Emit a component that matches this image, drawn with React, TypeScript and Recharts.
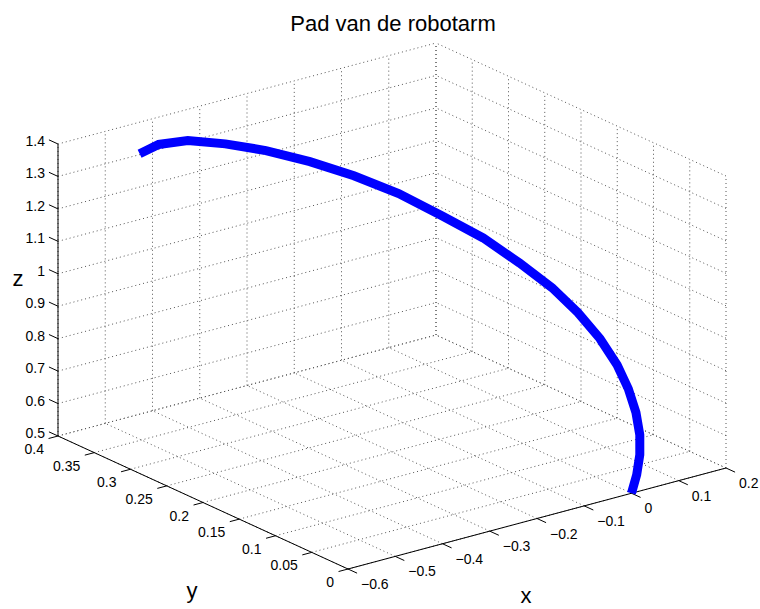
import { Scatter, ScatterChart, XAxis, YAxis } from "recharts"

const W = 760
const H = 609
const FONT = "'Liberation Sans', Arial, Helvetica, sans-serif"

// tip of the robot arm, sampled along its path
const pathX = [-0.504, -0.459, -0.402, -0.338, -0.272, -0.205, -0.141, -0.08, -0.027, 0.022, 0.059, 0.09, 0.109, 0.119, 0.12, 0.113, 0.1, 0.082, 0.059, 0.031, 0.0]
const pathY = [0.35, 0.353, 0.35, 0.34, 0.327, 0.31, 0.291, 0.269, 0.244, 0.219, 0.193, 0.168, 0.145, 0.121, 0.098, 0.078, 0.059, 0.042, 0.027, 0.013, 0.0]
const pathZ = [1.384, 1.392, 1.385, 1.36, 1.327, 1.284, 1.235, 1.179, 1.116, 1.054, 0.989, 0.926, 0.866, 0.806, 0.748, 0.698, 0.649, 0.605, 0.568, 0.532, 0.5]

const xTicks = [-0.6, -0.5, -0.4, -0.3, -0.2, -0.1, 0, 0.1, 0.2]
const yTicks = [0, 0.05, 0.1, 0.15, 0.2, 0.25, 0.3, 0.35, 0.4]
const zTicks = [0.5, 0.6, 0.7, 0.8, 0.9, 1, 1.1, 1.2, 1.3, 1.4]

const xLim = [-0.6, 0.2]
const yLim = [0, 0.4]
const zLim = [0.5, 1.4]

type P3 = [number, number, number]

// orthographic 3D view (az -37.5, el 30) onto the page
function project([x, y, z]: P3) {
  const u = x - xLim[0]
  const v = y - yLim[0]
  const w = z - zLim[0]
  return {
    sx: 348 + 472.5 * u - 725 * v,
    sy: 569 - 126.25 * u - 332.5 * v - 324.44 * w,
  }
}

const seg = (a: P3, b: P3) => [project(a), project(b)]

const [x0, x1] = xLim
const [y0, y1] = yLim
const [z0, z1] = zLim

const gridSegs = [
  // back wall at y = 0.4
  ...xTicks.map((x) => seg([x, y1, z0], [x, y1, z1])),
  ...zTicks.map((z) => seg([x0, y1, z], [x1, y1, z])),
  // side wall at x = 0.2
  ...yTicks.map((y) => seg([x1, y, z0], [x1, y, z1])),
  ...zTicks.map((z) => seg([x1, y0, z], [x1, y1, z])),
  // floor at z = 0.5
  ...xTicks.map((x) => seg([x, y0, z0], [x, y1, z0])),
  ...yTicks.map((y) => seg([x0, y, z0], [x1, y, z0])),
]

const axisSegs = [
  seg([x0, y1, z0], [x0, y1, z1]),
  seg([x0, y1, z0], [x0, y0, z0]),
  seg([x0, y0, z0], [x1, y0, z0]),
  ...zTicks.map((z) => seg([x0, y1, z], [x0, y1 + 0.0125, z])),
  ...yTicks.map((y) => seg([x0, y, z0], [x0 - 0.02, y, z0])),
  ...xTicks.map((x) => seg([x, y0, z0], [x, y0 - 0.0125, z0])),
]

const fmt = (v: number) => String(v).replace("-", "\u2212")

const zLabels = zTicks.map((z) => ({ ...project([x0, y1, z]), text: fmt(z) }))
const yLabels = yTicks.map((y) => ({ ...project([x0, y, z0]), text: fmt(y) }))
const xLabels = xTicks.map((x) => ({ ...project([x, y0, z0]), text: fmt(x) }))

const pathData = pathX.map((x, i) => project([x, pathY[i], pathZ[i]]))

const noDot = () => <g />

const labelShape = (dx: number, dy: number, anchor: "start" | "end") => (props: any) => (
  <text x={props.cx + dx} y={props.cy + dy} textAnchor={anchor} fontSize={14} fontFamily={FONT} fill="#000">
    {props.payload.text}
  </text>
)

export default function App() {
  return (
    <div style={{ position: "absolute", left: 0, top: 0, width: W, height: H, background: "#fff" }}>
      <ScatterChart width={W} height={H} margin={{ top: 0, right: 0, bottom: 0, left: 0 }}>
        <XAxis type="number" dataKey="sx" domain={[0, W]} hide allowDataOverflow />
        <YAxis type="number" dataKey="sy" domain={[0, H]} reversed hide allowDataOverflow />
        {gridSegs.map((d, i) => (
          <Scatter
            key={`g${i}`}
            data={d}
            shape={noDot}
            line={{ stroke: "#555", strokeWidth: 1, strokeDasharray: "1 3" }}
            isAnimationActive={false}
          />
        ))}
        {axisSegs.map((d, i) => (
          <Scatter
            key={`a${i}`}
            data={d}
            shape={noDot}
            line={{ stroke: "#000", strokeWidth: 1 }}
            isAnimationActive={false}
          />
        ))}
        <Scatter data={zLabels} shape={labelShape(-13, 2, "end")} isAnimationActive={false} />
        <Scatter data={yLabels} shape={labelShape(-14, 18, "end")} isAnimationActive={false} />
        <Scatter data={xLabels} shape={labelShape(13, 20, "start")} isAnimationActive={false} />
        <Scatter
          data={pathData}
          shape={noDot}
          line={{ stroke: "#0000ff", strokeWidth: 9 }}
          isAnimationActive={false}
        />
      </ScatterChart>
      <svg width={W} height={H} style={{ position: "absolute", left: 0, top: 0, pointerEvents: "none" }}>
        <text x={393} y={31} textAnchor="middle" fontSize={22} fontFamily={FONT}>
          Pad van de robotarm
        </text>
        <text x={18} y={286} textAnchor="middle" fontSize={22} fontFamily={FONT}>
          z
        </text>
        <text x={192} y={598} textAnchor="middle" fontSize={22} fontFamily={FONT}>
          y
        </text>
        <text x={526} y={603} textAnchor="middle" fontSize={22} fontFamily={FONT}>
          x
        </text>
      </svg>
    </div>
  )
}
